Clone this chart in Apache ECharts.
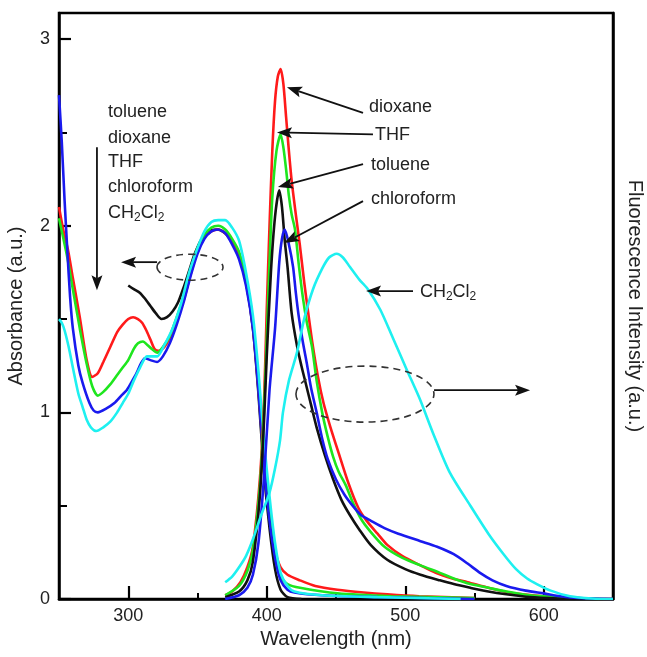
<!DOCTYPE html>
<html>
<head>
<meta charset="utf-8">
<script src="https://cdn.jsdelivr.net/npm/echarts@6/dist/echarts.min.js"></script>
<style>
html,body{margin:0;padding:0;background:#fff;}
#chart{width:647px;height:657px;}
</style>
</head>
<body>
<div id="chart"></div>
<script>
// absorption spectra [wavelength nm, absorbance]
var absToluene = [[300,1.68],[304,1.66],[308.5,1.64],[312,1.61],[316,1.57],[320,1.53],[324,1.50],[328,1.51],[332,1.54],[336,1.59],[340,1.67],[344,1.76],[348,1.85],[353,1.93],[358,1.97],[364,1.98],[370,1.96],[375,1.92],[380,1.85],[385,1.70],[390,1.45],[394,1.10],[398,0.68],[402,0.38],[406,0.16],[410,0.05],[415,0.01],[425,0]];
var absDioxane = [[250,2.10],[253,1.98],[256.5,1.87],[260,1.72],[265,1.51],[270,1.28],[274,1.19],[278,1.21],[282,1.27],[287,1.35],[292,1.43],[296,1.47],[300,1.50],[303.5,1.51],[307,1.50],[310,1.48],[313,1.44],[316,1.39],[319,1.34],[322,1.33],[326,1.35],[330,1.40],[335,1.50],[340,1.60],[345,1.74],[350,1.86],[355,1.94],[360,1.97],[365,1.98],[370,1.96],[375,1.91],[380,1.84],[385,1.70],[390,1.46],[394,1.13],[398,0.74],[402,0.45],[406,0.26],[410,0.17],[415,0.13],[424,0.10],[435,0.07],[451,0.05],[470,0.035],[487,0.025],[510,0.015],[550,0.005]];
var absTHF = [[250,2.04],[256,1.83],[260,1.66],[265,1.45],[270,1.26],[274,1.14],[278,1.09],[282,1.11],[287,1.15],[292,1.20],[296,1.24],[300,1.28],[304,1.34],[307,1.37],[310.6,1.38],[314,1.36],[317,1.34],[321,1.32],[325,1.35],[330,1.41],[335,1.51],[340,1.62],[345,1.76],[350,1.88],[355,1.95],[360,1.99],[365,2.00],[370,1.98],[375,1.93],[380,1.86],[385,1.72],[390,1.48],[394,1.15],[398,0.76],[402,0.45],[406,0.24],[410,0.12],[415,0.08],[424,0.06],[451,0.03],[490,0.015],[550,0.005]];
var absChloroform = [[250,2.70],[252,2.45],[254,2.14],[256,1.87],[258,1.62],[260,1.45],[264,1.25],[267,1.16],[272,1.05],[275,1.01],[278,1.00],[284,1.02],[290,1.05],[295,1.09],[299,1.12],[303,1.17],[306,1.21],[309,1.26],[312,1.29],[316,1.28],[320.8,1.27],[325,1.30],[330,1.37],[335,1.47],[340,1.59],[345,1.73],[350,1.85],[355,1.93],[360,1.97],[365,1.98],[370,1.96],[375,1.90],[380,1.82],[385,1.68],[390,1.45],[394,1.12],[398,0.72],[402,0.42],[406,0.22],[410,0.10],[415,0.05],[420,0.035],[440,0.02],[480,0.01],[550,0]];
var absCH2Cl2 = [[250,1.50],[252,1.48],[254,1.44],[257,1.35],[260,1.24],[264,1.10],[267,1.03],[270,0.96],[273,0.92],[277,0.90],[282,0.92],[287,0.95],[292,1.00],[296,1.05],[300,1.10],[304,1.17],[308.5,1.24],[313.5,1.30],[317,1.30],[321,1.30],[326,1.36],[332,1.45],[338,1.58],[344,1.75],[350,1.88],[355,1.97],[360,2.02],[365,2.03],[370,2.03],[375,1.99],[380,1.92],[385,1.75],[390,1.52],[394,1.22],[398,0.85],[402,0.55],[406,0.30],[410,0.14],[415,0.07],[420,0.04],[440,0.02],[480,0.01],[540,0]];

// fluorescence spectra [wavelength nm, intensity]
var flToluene = [[370,0.01],[380,0.04],[386,0.10],[390,0.20],[395,0.55],[398,0.95],[400,1.30],[403,1.75],[406,2.05],[409,2.19],[411,2.10],[413,1.92],[415,1.78],[418,1.53],[422,1.35],[425,1.25],[428,1.16],[432,1.04],[436,0.92],[442,0.77],[448,0.64],[454,0.53],[460,0.45],[467,0.37],[475,0.29],[487,0.21],[500,0.16],[511,0.13],[525,0.10],[535,0.08],[547,0.06],[560,0.04],[573,0.025],[590,0.01],[610,0.003],[630,0]];
var flDioxane = [[370,0.02],[375,0.04],[381,0.09],[386,0.17],[390,0.28],[395,0.64],[398,1.05],[400,1.55],[402,2.00],[404,2.40],[406,2.67],[408,2.80],[410,2.84],[412,2.76],[414,2.58],[416,2.40],[418,2.24],[421,2.06],[424,1.89],[427,1.70],[430,1.53],[433,1.37],[437,1.19],[441,1.05],[446,0.92],[452,0.78],[459,0.62],[466,0.49],[472,0.42],[480,0.35],[487,0.29],[498,0.23],[511,0.18],[522,0.14],[534,0.11],[545,0.09],[560,0.06],[575,0.035],[592,0.02],[610,0.01],[630,0.003],[650,0]];
var flTHF = [[370,0.02],[380,0.07],[386,0.15],[390,0.26],[395,0.60],[398,1.00],[400,1.40],[402,1.80],[404,2.15],[407,2.40],[410,2.49],[412,2.42],[414,2.30],[416,2.16],[418,2.06],[420.4,1.98],[423,1.80],[426,1.62],[429,1.48],[432.7,1.35],[436,1.17],[440,1.00],[444,0.87],[448,0.76],[452,0.68],[457,0.61],[462,0.52],[468,0.43],[475,0.36],[485,0.28],[498,0.22],[511,0.18],[525,0.14],[535,0.11],[547,0.08],[560,0.06],[573,0.04],[590,0.02],[610,0.01],[640,0]];
var flChloroform = [[370,0],[380,0.02],[386,0.06],[390,0.13],[394,0.30],[398,0.65],[402,1.12],[406,1.45],[409,1.80],[411,1.93],[413,1.98],[416,1.90],[419,1.78],[421,1.64],[423,1.52],[426,1.38],[429,1.26],[432,1.13],[436,1.00],[440,0.86],[444,0.75],[450,0.64],[456,0.56],[462,0.50],[468,0.45],[475,0.42],[485,0.38],[495,0.35],[511,0.31],[523,0.28],[535,0.24],[545,0.19],[554,0.14],[563,0.10],[573,0.07],[587,0.045],[600,0.03],[612,0.015],[625,0.005],[650,0]];
var flCH2Cl2 = [[370,0.09],[375,0.12],[380,0.17],[385,0.23],[390,0.32],[396,0.45],[402,0.57],[406,0.70],[409.6,0.85],[411.7,1.00],[416,1.17],[421.8,1.32],[427,1.50],[433.4,1.66],[440,1.77],[445,1.83],[450.5,1.85],[455,1.83],[460,1.78],[467,1.71],[473,1.66],[482,1.55],[491,1.40],[501,1.23],[510.6,1.07],[520,0.89],[532,0.68],[547,0.50],[560,0.35],[571,0.24],[580,0.16],[588,0.11],[595,0.08],[605,0.045],[619,0.015],[635,0.003],[650,0]];

var xMajor = [300,400,500,600];
var xMinor = [350,450,550];
var yMajor = [0,1,2,3];
var yMinor = [0.5,1.5,2.5];
var solventList = ['toluene','dioxane','THF','chloroform','CH{s|2}Cl{s|2}'];

var FONT = '"Liberation Sans", Arial, sans-serif';
var RED = '#ff1a1a', GREEN = '#1ee61e', BLUE = '#1a1aee', CYAN = '#1ef0f0', BLACK = '#111';

function line(name, data, color) {
    return {
        name: name,
        type: 'line',
        data: data,
        showSymbol: false,
        smooth: 0.25,
        lineStyle: {color: color, width: 2.6},
        silent: true,
        z: 3
    };
}

var chart = echarts.init(document.getElementById('chart'));
var X0 = 250, X1 = 650, Y0 = 0, Y1 = 3.14;

chart.setOption({
    animation: false,
    backgroundColor: '#fff',
    grid: {left: 59, right: 34, top: 13, bottom: 58, outerBoundsMode: 'none', containLabel: false,
        show: true, borderColor: '#000', borderWidth: 2.5, backgroundColor: 'transparent'},
    xAxis: [{
        type: 'value', min: X0, max: X1, position: 'bottom',
        axisLine: {lineStyle: {color: '#000', width: 2.5}},
        axisTick: {inside: true, length: 13, customValues: xMajor, lineStyle: {color: '#000', width: 2.2}},
        axisLabel: {customValues: xMajor, margin: 8, fontSize: 18, color: '#222', fontFamily: FONT},
        splitLine: {show: false},
        name: 'Wavelength (nm)', nameLocation: 'middle', nameGap: 30,
        nameTextStyle: {fontSize: 20, color: '#222', fontFamily: FONT}
    }, {
        type: 'value', min: X0, max: X1, position: 'bottom',
        axisLine: {show: false},
        axisTick: {inside: true, length: 6, customValues: xMinor, lineStyle: {color: '#000', width: 2}},
        axisLabel: {show: false},
        splitLine: {show: false}
    }],
    yAxis: [{
        type: 'value', min: Y0, max: Y1, position: 'left',
        axisLine: {show: true, lineStyle: {color: '#000', width: 2.5}},
        axisTick: {show: true, inside: true, length: 12, customValues: yMajor, lineStyle: {color: '#000', width: 2.2}},
        axisLabel: {customValues: yMajor, margin: 9, fontSize: 18, color: '#222', fontFamily: FONT},
        splitLine: {show: false},
        name: 'Absorbance (a.u.)', nameLocation: 'middle', nameGap: 33,
        nameTextStyle: {fontSize: 20, color: '#222', fontFamily: FONT}
    }, {
        type: 'value', min: Y0, max: Y1, position: 'left',
        axisLine: {show: false},
        axisTick: {show: true, inside: true, length: 8, customValues: yMinor, lineStyle: {color: '#000', width: 2}},
        axisLabel: {show: false},
        splitLine: {show: false}
    }, {
        type: 'value', min: Y0, max: Y1, position: 'right',
        axisLine: {show: true, lineStyle: {color: '#000', width: 2.5}},
        axisTick: {show: false},
        axisLabel: {show: false},
        splitLine: {show: false},
        name: 'Fluorescence Intensity (a.u.)', nameLocation: 'middle', nameGap: 12, nameRotate: -90,
        nameTextStyle: {fontSize: 20, color: '#222', fontFamily: FONT}
    }],
    series: [
        line('toluene abs', absToluene, BLACK),
        line('dioxane abs', absDioxane, RED),
        line('THF abs', absTHF, GREEN),
        line('chloroform abs', absChloroform, BLUE),
        line('CH2Cl2 abs', absCH2Cl2, CYAN),
        line('dioxane fl', flDioxane, RED),
        line('THF fl', flTHF, GREEN),
        line('toluene fl', flToluene, BLACK),
        line('chloroform fl', flChloroform, BLUE),
        line('CH2Cl2 fl', flCH2Cl2, CYAN)
    ]
});

// annotations, placed in data units and converted with the chart's own scales
function P(x, y) { return chart.convertToPixel({xAxisIndex: 0, yAxisIndex: 0}, [x, y]); }

var RICH = {s: {fontSize: 12, fontFamily: FONT, fill: '#222', padding: [9, 0, 0, 0]}};
function label(txt, x, y) {
    var p = P(x, y);
    return {type: 'text', z: 10, style: {text: txt, x: p[0], y: p[1], fontSize: 18, fontFamily: FONT, fill: '#222', verticalAlign: 'middle', align: 'left', rich: RICH}};
}
function arrow(from, to) {
    var a = P(from[0], from[1]), b = P(to[0], to[1]);
    var dx = b[0] - a[0], dy = b[1] - a[1], len = Math.sqrt(dx * dx + dy * dy);
    var ux = dx / len, uy = dy / len, hl = 15, hw = 5.5;
    var bx = b[0] - ux * hl, by = b[1] - uy * hl;
    return [{
        type: 'line', z: 10,
        shape: {x1: a[0], y1: a[1], x2: bx + ux * 3, y2: by + uy * 3},
        style: {stroke: '#111', lineWidth: 1.8}
    }, {
        type: 'polygon', z: 10,
        shape: {points: [[b[0], b[1]], [bx - uy * hw, by + ux * hw], [bx + ux * 3, by + uy * 3], [bx + uy * hw, by - ux * hw]]},
        style: {fill: '#111'}
    }];
}
function ring(x, y, rx, ry) {
    var c = P(x, y);
    return {type: 'ellipse', z: 10, shape: {cx: c[0], cy: c[1], rx: rx, ry: ry},
        style: {fill: 'none', stroke: '#333', lineWidth: 1.6, lineDash: [7, 5]}};
}

var g = [];
var listY = [2.61, 2.47, 2.34, 2.21, 2.07];
solventList.forEach(function (s, i) { g.push(label(s, 285.4, listY[i])); });
g = g.concat(arrow([277.4, 2.42], [277.4, 1.655]));
g = g.concat(arrow([320.8, 1.805], [294.8, 1.805]));
g.push(ring(344.6, 1.778, 33, 13));

g.push(label('dioxane', 473.8, 2.635));
g.push(label('THF', 478.2, 2.485));
g.push(label('toluene', 475.3, 2.325));
g.push(label('chloroform', 475.3, 2.142));
g.push(label('CH{s|2}Cl{s|2}', 510.6, 1.644));
g = g.concat(arrow([469.5, 2.605], [414.6, 2.742]));
g = g.concat(arrow([476.7, 2.49], [407.4, 2.50]));
g = g.concat(arrow([469.5, 2.33], [408.1, 2.207]));
g = g.concat(arrow([469.5, 2.132], [412.5, 1.907]));
g = g.concat(arrow([505.6, 1.65], [471.7, 1.65]));
g.push(ring(470.9, 1.098, 69, 28));
g = g.concat(arrow([520.8, 1.119], [590.1, 1.119]));

chart.setOption({graphic: g});
</script>
</body>
</html>
